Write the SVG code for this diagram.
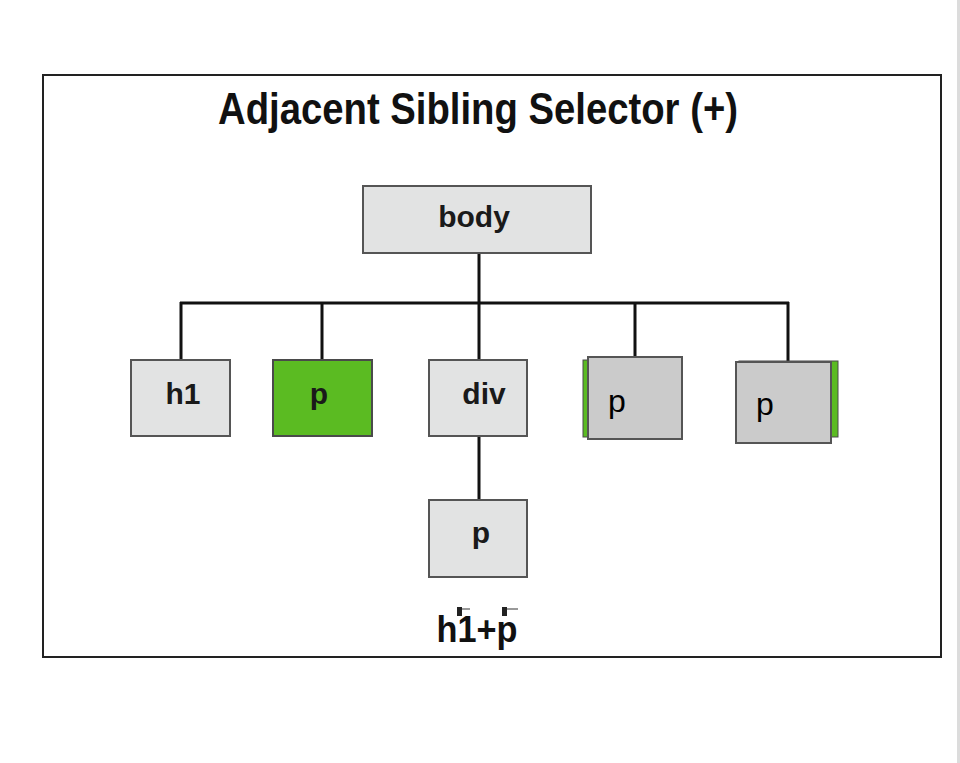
<svg xmlns="http://www.w3.org/2000/svg" width="960" height="763" viewBox="0 0 960 763">
<style>
.box{fill:#e2e3e3;stroke:#555;stroke-width:2}
.green{fill:#5bbb22;stroke:#4a4a4a;stroke-width:2}
.gray{fill:#cbcbcb;stroke:#555;stroke-width:2}
.lbl{font-family:"Liberation Sans",Arial,sans-serif;font-weight:bold;font-size:30px;fill:#1a1a1a;text-anchor:middle}
.reg{font-family:"Liberation Sans",Arial,sans-serif;font-size:32px;fill:#000;text-anchor:middle}
.conn{stroke:#111;stroke-width:3;fill:none}
</style>
<rect x="0" y="0" width="960" height="763" fill="#ffffff"/>
<rect x="957" y="0" width="3" height="763" fill="#dcdcdc"/>
<rect x="43" y="75" width="898" height="582" fill="#ffffff" stroke="#222" stroke-width="2"/>
<text x="478" y="124" font-family="'Liberation Sans',Arial,sans-serif" font-weight="bold" font-size="45" fill="#111" text-anchor="middle" textLength="520" lengthAdjust="spacingAndGlyphs">Adjacent Sibling Selector (+)</text>
<g id="connectors">
<path class="conn" d="M479 253 V303 M180 303 H789 M181 302 V360 M322 302 V360 M479 302 V360 M635 302 V357 M788 302 V361 M479 437 V500"/>
</g>
<g id="node-body">
<rect class="box" x="363" y="186" width="228" height="67"/>
<text class="lbl" x="474" y="227">body</text>
</g>
<g id="node-h1">
<rect class="box" x="131" y="360" width="99" height="76"/>
<text class="lbl" x="183" y="404">h1</text>
</g>
<g id="node-p-green">
<rect class="green" x="273" y="360" width="99" height="76"/>
<text class="lbl" x="319" y="404">p</text>
</g>
<g id="node-div">
<rect class="box" x="429" y="360" width="98" height="76"/>
<text class="lbl" x="484" y="404">div</text>
</g>
<g id="node-p-child">
<rect class="box" x="429" y="500" width="98" height="77"/>
<text class="lbl" x="481" y="543">p</text>
</g>
<g id="node-p3">
<rect x="583" y="360" width="99" height="77" fill="#5bbb22" stroke="#4a4a4a" stroke-width="1"/>
<rect class="gray" x="588" y="357" width="94" height="82"/>
<text class="reg" x="617" y="412">p</text>
</g>
<g id="node-p4">
<rect x="739" y="361" width="99" height="76" fill="#5bbb22" stroke="#4a4a4a" stroke-width="1"/>
<rect class="gray" x="736" y="362" width="95" height="81"/>
<text class="reg" x="765" y="415">p</text>
</g>
<g id="caption">
<rect x="457" y="607" width="5" height="9" fill="#222"/>
<rect x="462" y="608" width="8" height="2" fill="#999"/>
<rect x="502" y="607" width="5" height="9" fill="#222"/>
<rect x="507" y="608" width="11" height="2" fill="#999"/>
<text x="477" y="642" font-family="'Liberation Sans',Arial,sans-serif" font-weight="bold" font-size="37" fill="#111" text-anchor="middle" textLength="81" lengthAdjust="spacingAndGlyphs">h1+p</text>
</g>
</svg>
